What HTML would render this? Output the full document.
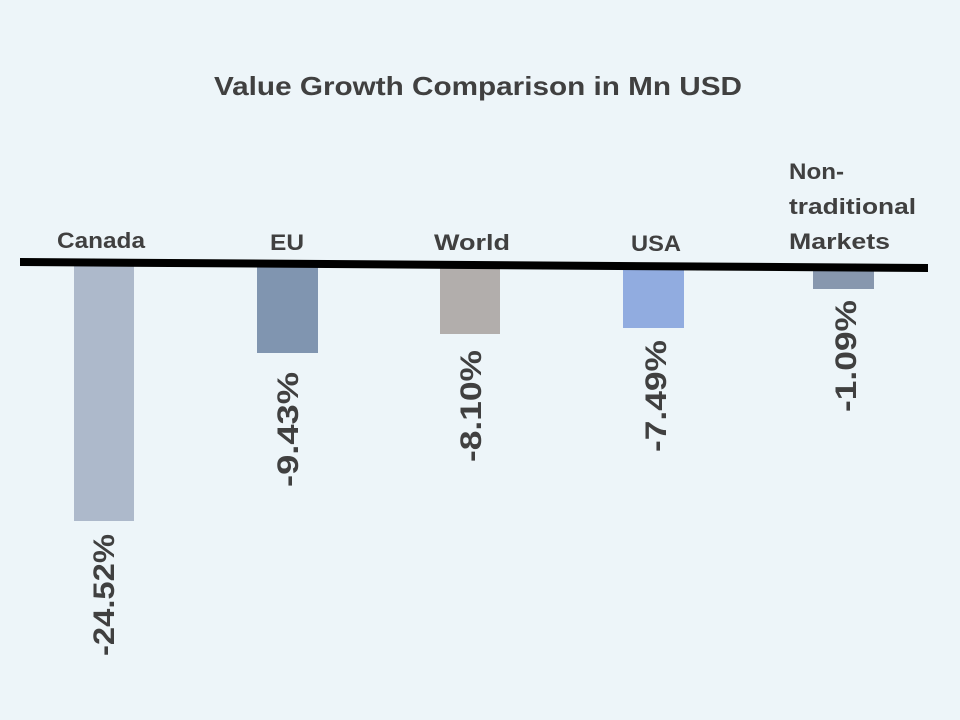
<!DOCTYPE html>
<html><head><meta charset="utf-8"><style>
html,body{margin:0;padding:0;background:#edf5f9;}
svg{display:block}
text{font-family:"Liberation Sans",Arial,sans-serif;fill:#404040;}
</style></head><body>
<svg width="960" height="720" viewBox="0 0 960 720">
<rect width="960" height="720" fill="#edf5f9"/>
<text x="478" y="95" text-anchor="middle" font-size="26" font-weight="bold" textLength="528" lengthAdjust="spacingAndGlyphs">Value Growth Comparison  in  Mn USD</text>
<g font-size="22" font-weight="bold" text-anchor="middle">
<text x="101" y="248" textLength="88" lengthAdjust="spacingAndGlyphs">Canada</text>
<text x="287" y="250" textLength="34" lengthAdjust="spacingAndGlyphs">EU</text>
<text x="472" y="250" textLength="76" lengthAdjust="spacingAndGlyphs">World</text>
<text x="656" y="251" textLength="50" lengthAdjust="spacingAndGlyphs">USA</text>
<g text-anchor="start">
<text x="789" y="179" textLength="55" lengthAdjust="spacingAndGlyphs">Non-</text>
<text x="789" y="214" textLength="127" lengthAdjust="spacingAndGlyphs">traditional</text>
<text x="789" y="249" textLength="101" lengthAdjust="spacingAndGlyphs">Markets</text>
</g></g>
<rect x="74" y="266" width="60" height="255" fill="#adb9cb"/>
<rect x="257" y="266" width="61" height="87" fill="#8095b0"/>
<rect x="440" y="266" width="60" height="68" fill="#b2aeac"/>
<rect x="623" y="266" width="61" height="62" fill="#91ace0"/>
<rect x="813" y="266" width="61" height="23" fill="#8797ae"/>
<polygon points="20,258 928,264 928,272 20,266" fill="#000"/>
<g font-size="30" font-weight="bold">
<text transform="translate(114,656) rotate(-90)" textLength="122" lengthAdjust="spacingAndGlyphs">-24.52%</text>
<text transform="translate(298,487) rotate(-90)" textLength="115" lengthAdjust="spacingAndGlyphs">-9.43%</text>
<text transform="translate(481,462) rotate(-90)" textLength="112" lengthAdjust="spacingAndGlyphs">-8.10%</text>
<text transform="translate(666,452) rotate(-90)" textLength="112" lengthAdjust="spacingAndGlyphs">-7.49%</text>
<text transform="translate(856,412) rotate(-90)" textLength="112" lengthAdjust="spacingAndGlyphs">-1.09%</text>
</g>
</svg>
</body></html>
